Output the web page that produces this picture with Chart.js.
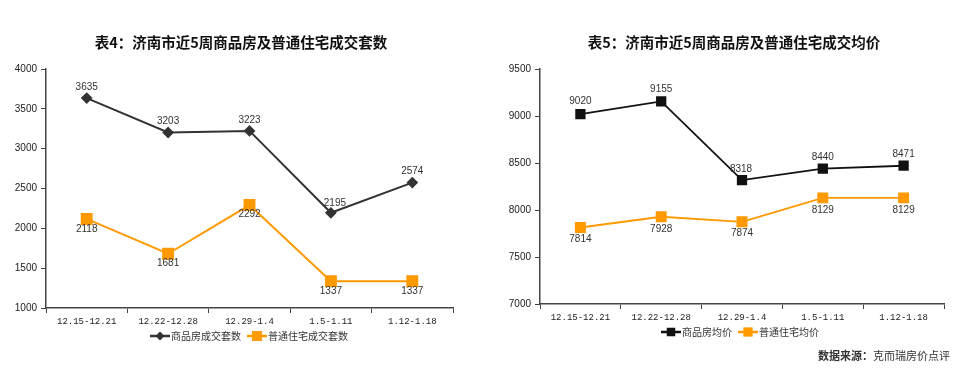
<!DOCTYPE html>
<html><head><meta charset="utf-8">
<script src="https://cdn.jsdelivr.net/npm/chart.js@4/dist/chart.umd.min.js"></script>
<style>
html,body{margin:0;padding:0;background:#fff;width:978px;height:369px;overflow:hidden;}
.wrap{position:absolute;top:0;width:489px;height:369px;}
#w1{left:0}#w2{left:489px}
.ttl{position:absolute;top:32px;width:400px;text-align:center;font-family:"Noto Sans CJK SC";font-weight:bold;font-size:14.5px;line-height:20px;color:#111;white-space:nowrap;}
#t1{left:41px}#t2{left:534px}
.src{position:absolute;right:28px;top:347px;font-family:"Noto Sans CJK SC";font-size:11px;color:#333;}
.src b{font-weight:bold;}
</style></head><body>
<div class="wrap" id="w1"><canvas id="c1" width="489" height="369"></canvas></div>
<div class="wrap" id="w2"><canvas id="c2" width="489" height="369"></canvas></div>
<div class="ttl" id="t1"></div>
<div class="ttl" id="t2"></div>
<div class="src"><b>数据来源：</b>克而瑞房价点评</div>
<script>
const categories = ['12.15-12.21','12.22-12.28','12.29-1.4','1.5-1.11','1.12-1.18'];
const title1 = '表4：济南市近5周商品房及普通住宅成交套数';
const title2 = '表5：济南市近5周商品房及普通住宅成交均价';
const name1a = '商品房成交套数', name1b = '普通住宅成交套数';
const name2a = '商品房均价', name2b = '普通住宅均价';
const sales1 = [3635, 3203, 3223, 2195, 2574];
const sales2 = [2118, 1681, 2292, 1337, 1337];
const price1 = [9020, 9155, 8318, 8440, 8471];
const price2 = [7814, 7928, 7874, 8129, 8129];
const yTicks1 = {min:1000, max:4000, step:500};
const yTicks2 = {min:7000, max:9500, step:500};

document.getElementById('t1').textContent=title1;
document.getElementById('t2').textContent=title2;

const ORANGE='#FF9900';
const tickFont={family:'"Liberation Sans"',size:10};

const labelPlugin={id:'lbl',afterDatasetsDraw(chart,args,opts){
  const ctx=chart.ctx;ctx.save();ctx.font='10px "Liberation Sans"';ctx.fillStyle='#333';ctx.textAlign='center';ctx.textBaseline='middle';
  chart.data.datasets.forEach((ds,i)=>{
    const meta=chart.getDatasetMeta(i);const offs=opts.offsets[i];
    meta.data.forEach((p,j)=>{const o=offs[j];ctx.fillText(String(ds.data[j]),p.x+o[0],p.y+o[1]);});
  });ctx.restore();}};
const legendPlugin={id:'leg',afterDraw(chart,args,opts){
  const ctx=chart.ctx;ctx.save();ctx.font='10px "Noto Sans CJK SC"';ctx.textBaseline='middle';
  let x=opts.x;const y=opts.y;
  chart.data.datasets.forEach((ds)=>{
    ctx.strokeStyle=ds.borderColor;ctx.lineWidth=2.5;ctx.beginPath();ctx.moveTo(x,y);ctx.lineTo(x+20,y);ctx.stroke();
    ctx.fillStyle=ds.backgroundColor;const r=ds.pointRadius;
    if(ds.pointStyle==='rectRot'){ctx.beginPath();ctx.moveTo(x+10,y-r);ctx.lineTo(x+10+r,y);ctx.lineTo(x+10,y+r);ctx.lineTo(x+10-r,y);ctx.closePath();ctx.fill();}
    else{const s=r*0.71;ctx.fillRect(x+10-s,y-s,s*2,s*2);}
    ctx.fillStyle='#333';ctx.fillText(ds.label,x+21,y);
    x+=21+ctx.measureText(ds.label).width+6;
  });ctx.restore();}};

function make(id,cfg){
  const ys=cfg.yt;
  return new Chart(document.getElementById(id),{
    type:'line',
    data:{labels:categories,datasets:[
      {label:cfg.na,data:cfg.a,borderColor:cfg.colA,backgroundColor:cfg.colA,borderWidth:cfg.lw,pointStyle:cfg.styleA,pointRadius:cfg.rA,pointHoverRadius:cfg.rA,tension:0},
      {label:cfg.nb,data:cfg.b,borderColor:ORANGE,backgroundColor:ORANGE,borderWidth:cfg.lw,pointStyle:'rect',pointRadius:cfg.rB,pointHoverRadius:cfg.rB,tension:0}
    ]},
    options:{responsive:false,animation:false,events:[],
      layout:{padding:cfg.pad},
      plugins:{legend:{display:false},tooltip:{enabled:false},title:{display:false},
        lbl:{offsets:cfg.offs},leg:cfg.leg},
      scales:{
        x:{offset:true,grid:{offset:true,drawOnChartArea:false,drawTicks:true,tickLength:5,color:'#444'},
           border:{color:'#444',width:1.5},ticks:{font:{family:'"Liberation Mono"',size:9},color:'#222',padding:3,maxRotation:0},
           afterFit(s){s.height=22;}},
        y:{min:ys.min,max:ys.max,grid:{drawOnChartArea:false,drawTicks:true,tickLength:5,color:'#444'},
           border:{color:'#444',width:1.5},ticks:{stepSize:ys.step,font:tickFont,color:'#222',padding:4,callback:v=>String(v)},
           afterFit(s){s.width=cfg.yw;}}
      }
    },
    plugins:[labelPlugin,legendPlugin]
  });
}
make('c1',{a:sales1,b:sales2,na:name1a,nb:name1b,yt:yTicks1,styleA:'rectRot',rA:4.5,rB:7,colA:'#333333',yw:46,lw:2,
  pad:{left:0,right:36,top:69,bottom:39},
  offs:[[[0,-11],[0,-11],[0,-11],[4,-10],[0,-11]],[[0,10],[0,10],[0,9],[0,10],[0,10]]],
  leg:{x:150,y:336}});
make('c2',{a:price1,b:price2,na:name2a,nb:name2b,yt:yTicks2,styleA:'rect',rA:6,rB:6.5,colA:'#111111',yw:51,lw:1.8,
  pad:{left:0,right:34,top:69,bottom:43},
  offs:[[[0,-13],[0,-12],[-1,-11],[0,-11],[0,-11]],[[0,12],[0,12],[0,11],[0,12],[0,12]]],
  leg:{x:172,y:332}});
</script>
</body></html>
